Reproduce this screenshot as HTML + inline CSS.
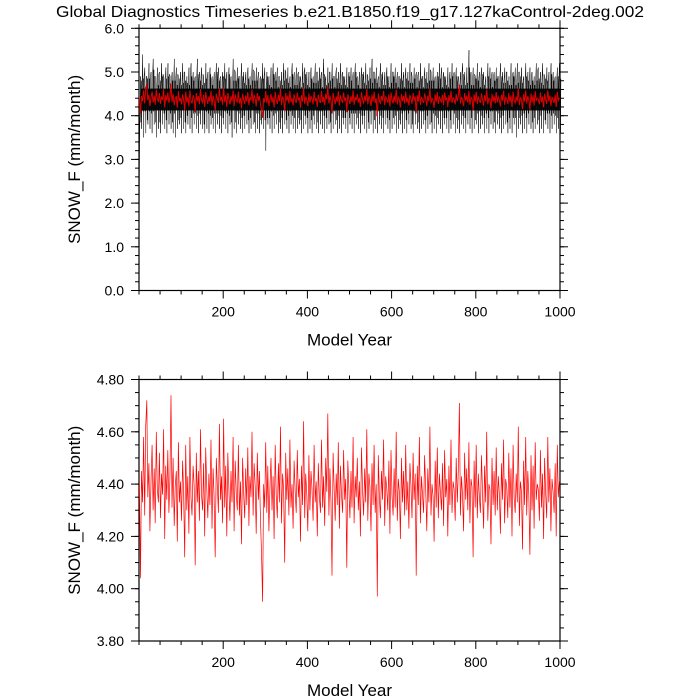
<!DOCTYPE html>
<html><head><meta charset="utf-8"><style>
html,body{margin:0;padding:0;background:#fff;}
svg{display:block;font-family:"Liberation Sans",Arial,sans-serif;}
</style></head><body>
<svg id="chart" width="700" height="700" viewBox="0 0 700 700">
<text x="350" y="17" text-anchor="middle" font-size="16" textLength="588" lengthAdjust="spacingAndGlyphs">Global Diagnostics Timeseries b.e21.B1850.f19_g17.127kaControl-2deg.002</text>
<g id="top"></g>
<g id="bot"></g>
</svg>
<script>
// Annual mean SNOW_F (red), sampled every 2.5 model years
const redYears0 = 1, redStep = 2.5;
const redValues = [
4.40,4.04,4.45,4.33,4.58,4.28,4.62,4.72,4.35,4.48,4.22,4.41,4.55,4.30,4.46,4.25,4.60,4.38,4.33,4.52,
4.27,4.44,4.36,4.61,4.19,4.47,4.34,4.53,4.29,4.42,4.74,4.31,4.50,4.24,4.39,4.45,4.18,4.56,4.33,4.41,
4.26,4.49,4.37,4.12,4.55,4.30,4.43,4.21,4.58,4.35,4.28,4.47,4.39,4.09,4.52,4.33,4.45,4.26,4.61,4.36,
4.30,4.48,4.20,4.54,4.38,4.27,4.44,4.32,4.57,4.23,4.46,4.35,4.12,4.50,4.40,4.29,4.63,4.34,4.43,4.25,
4.65,4.31,4.47,4.20,4.52,4.38,4.26,4.45,4.33,4.58,4.22,4.49,4.36,4.30,4.55,4.28,4.41,4.17,4.50,4.37,
4.27,4.46,4.32,4.54,4.24,4.43,4.35,4.60,4.28,4.48,4.39,4.21,4.52,4.34,4.45,4.26,4.14,3.95,4.40,4.31,
4.56,4.29,4.47,4.22,4.38,4.50,4.30,4.43,4.19,4.55,4.36,4.27,4.48,4.33,4.62,4.25,4.44,4.38,4.10,4.52,
4.34,4.46,4.28,4.57,4.31,4.40,4.23,4.49,4.37,4.29,4.53,4.35,4.42,4.18,4.47,4.32,4.64,4.27,4.44,4.36,
4.22,4.51,4.30,4.45,4.38,4.26,4.55,4.33,4.41,4.20,4.48,4.35,4.29,4.57,4.31,4.43,4.24,4.50,4.37,4.67,
4.28,4.46,4.33,4.05,4.52,4.39,4.26,4.44,4.32,4.56,4.23,4.47,4.36,4.29,4.53,4.34,4.42,4.08,4.49,4.38,
4.27,4.45,4.31,4.58,4.25,4.43,4.35,4.50,4.30,4.41,4.20,4.54,4.37,4.28,4.46,4.33,4.61,4.26,4.44,4.39,
4.22,4.48,4.32,4.55,4.29,4.40,3.97,4.51,4.35,4.27,4.45,4.34,4.57,4.24,4.43,4.38,4.30,4.49,4.21,4.53,
4.36,4.28,4.46,4.31,4.60,4.26,4.42,4.37,4.19,4.50,4.33,4.45,4.28,4.55,4.30,4.41,4.23,4.48,4.39,4.27,
4.52,4.34,4.44,4.05,4.47,4.32,4.58,4.25,4.43,4.36,4.29,4.51,4.38,4.22,4.46,4.33,4.62,4.28,4.40,4.35,
4.18,4.49,4.31,4.54,4.27,4.44,4.37,4.30,4.48,4.24,4.53,4.35,4.42,4.20,4.47,4.32,4.57,4.29,4.41,4.38,
4.26,4.50,4.33,4.45,4.71,4.28,4.43,4.36,4.22,4.52,4.34,4.46,4.30,4.56,4.25,4.42,4.39,4.12,4.49,4.31,
4.55,4.27,4.44,4.35,4.29,4.51,4.37,4.23,4.47,4.33,4.60,4.26,4.40,4.38,4.17,4.50,4.32,4.45,4.28,4.54,
4.30,4.43,4.36,4.21,4.48,4.34,4.57,4.25,4.42,4.39,4.27,4.52,4.31,4.46,4.20,4.55,4.35,4.29,4.44,4.33,
4.62,4.24,4.41,4.37,4.15,4.49,4.32,4.58,4.28,4.45,4.36,4.13,4.51,4.30,4.47,4.23,4.56,4.34,4.40,4.38,
4.26,4.53,4.31,4.44,4.19,4.50,4.36,4.27,4.58,4.33,4.46,4.22,4.42,4.37,4.29,4.48,4.20,4.55,4.35,4.41
];
// Monthly envelope (black) per 5-year bin: high and low extremes
const blackStep = 5;
const blackHigh = [
4.9,5.4,5.1,4.9,5.2,5.0,5.3,4.9,5.1,5.0,5.2,4.9,5.1,5.2,4.9,5.0,5.3,5.1,4.9,5.0,
5.2,5.0,4.9,5.1,5.2,5.0,4.9,5.3,5.0,5.1,4.9,5.2,5.0,5.1,4.9,5.0,5.2,5.1,4.9,5.0,
5.2,5.0,5.1,4.9,5.3,5.0,5.1,4.9,5.2,5.0,5.0,5.1,4.9,5.2,5.0,5.1,5.0,4.9,5.2,5.1,
5.0,4.9,5.1,5.2,5.0,5.1,4.9,5.0,5.2,5.0,5.1,4.9,5.2,5.0,5.1,5.0,4.9,5.2,5.1,5.0,
5.0,5.1,4.9,5.2,5.0,5.1,5.0,5.3,4.9,5.1,5.0,5.2,4.9,5.1,5.0,5.2,5.0,4.9,5.1,5.0,
5.1,5.0,5.2,4.9,5.0,5.1,5.0,5.2,4.9,5.1,5.3,5.0,5.1,4.9,5.2,5.0,5.0,5.1,4.9,5.2,
5.0,5.1,5.0,4.9,5.2,5.0,5.1,5.0,5.2,4.9,5.1,5.0,5.0,5.2,4.9,5.1,5.0,5.2,5.0,5.1,
4.9,5.0,5.2,5.1,5.0,4.9,5.1,5.0,5.2,5.0,5.1,4.9,5.0,5.2,5.0,5.1,5.5,5.0,5.1,4.9,
5.2,5.0,5.1,5.0,4.9,5.2,5.1,5.0,5.0,5.1,4.9,5.2,5.0,5.1,5.0,4.9,5.2,5.0,5.1,5.2,
5.0,5.1,4.9,5.2,5.0,5.1,5.0,4.9,5.2,5.1,5.0,5.2,4.9,5.1,5.0,5.2,5.0,4.9,5.1,5.2
];
const blackLow = [
3.7,3.5,3.6,3.8,3.7,3.6,3.8,3.5,3.7,3.6,3.8,3.7,3.6,3.8,3.7,3.6,3.5,3.7,3.8,3.6,
3.7,3.6,3.8,3.7,3.6,3.8,3.7,3.6,3.8,3.7,3.6,3.7,3.6,3.8,3.7,3.6,3.8,3.7,3.6,3.8,
3.7,3.6,3.8,3.5,3.7,3.6,3.8,3.7,3.6,3.7,3.8,3.6,3.7,3.8,3.6,3.7,3.6,3.8,3.7,3.2,
3.8,3.7,3.6,3.7,3.8,3.6,3.7,3.6,3.8,3.7,3.6,3.8,3.7,3.6,3.7,3.8,3.6,3.7,3.8,3.6,
3.7,3.6,3.8,3.7,3.6,3.8,3.7,3.6,3.7,3.8,3.6,3.7,3.8,3.6,3.7,3.6,3.8,3.7,3.6,3.8,
3.7,3.6,3.8,3.7,3.6,3.8,3.7,3.6,3.7,3.8,3.6,3.7,3.6,3.8,3.7,3.6,3.8,3.7,3.6,3.7,
3.8,3.6,3.7,3.8,3.6,3.7,3.6,3.8,3.7,3.6,3.8,3.7,3.6,3.7,3.8,3.6,3.7,3.8,3.6,3.7,
3.6,3.8,3.7,3.6,3.8,3.7,3.6,3.7,3.8,3.6,3.7,3.6,3.8,3.7,3.6,3.8,3.7,3.6,3.7,3.8,
3.6,3.7,3.8,3.6,3.7,3.6,3.8,3.7,3.6,3.8,3.7,3.6,3.7,3.8,3.6,3.7,3.6,3.8,3.5,3.7,
3.8,3.6,3.7,3.6,3.8,3.7,3.6,3.7,3.8,3.6,3.7,3.6,3.8,3.7,3.6,3.7,3.8,3.6,3.7,3.6
];
const spinupYears = [0, 1, 2, 3];
const spinupValues = [0.0, 2.8, 3.9, 4.4];
const xTicks = [200, 400, 600, 800, 1000];
const topYTicks = [0, 1, 2, 3, 4, 5, 6];
const topYLabels = ["0.0","1.0","2.0","3.0","4.0","5.0","6.0"];
const botYTicks = [3.8, 4.0, 4.2, 4.4, 4.6, 4.8];
const botYLabels = ["3.80","4.00","4.20","4.40","4.60","4.80"];

const NS = "http://www.w3.org/2000/svg";
const X0 = 139, X1 = 560;
const xScale = v => X0 + (v / 1000) * (X1 - X0);
function mk(parent, tag, attrs) {
  const e = document.createElementNS(NS, tag);
  for (const k in attrs) e.setAttribute(k, attrs[k]);
  parent.appendChild(e);
  return e;
}
function panel(g, yTop, yBot, ymin, ymax, ticks, labels, minorStep, name) {
  const yScale = v => yBot - (v - ymin) / (ymax - ymin) * (yBot - yTop);
  const fr = mk(g, "rect", {x: X0, y: yTop, width: X1 - X0, height: yBot - yTop, fill: "none", stroke: "#000", "stroke-width": 1.2});
  
  
  for (let v = 0; v <= 1000; v += 50) {
    const x = xScale(v), major = v % 200 === 0 && v > 0;
    const len = major ? 8 : 4;
    mk(g, "line", {x1: x, x2: x, y1: yBot, y2: yBot + len, stroke: "#000", "stroke-width": 1});
    mk(g, "line", {x1: x, x2: x, y1: yTop, y2: yTop - len, stroke: "#000", "stroke-width": 1});
  }
  xTicks.forEach(v => {
    const t = mk(g, "text", {x: xScale(v), y: yBot + 26, "text-anchor": "middle", "font-size": 14});
    t.textContent = String(v);
    
    
  });
  for (let v = ymin; v <= ymax + 1e-9; v += minorStep) {
    const y = yScale(v);
    mk(g, "line", {x1: X0, x2: X0 - 4, y1: y, y2: y, stroke: "#000", "stroke-width": 1});
    mk(g, "line", {x1: X1, x2: X1 + 4, y1: y, y2: y, stroke: "#000", "stroke-width": 1});
  }
  ticks.forEach((v, i) => {
    const y = yScale(v);
    mk(g, "line", {x1: X0, x2: X0 - 8, y1: y, y2: y, stroke: "#000", "stroke-width": 1});
    mk(g, "line", {x1: X1, x2: X1 + 8, y1: y, y2: y, stroke: "#000", "stroke-width": 1});
    const t = mk(g, "text", {x: X0 - 15, y: y + 5, "text-anchor": "end", "font-size": 14});
    t.textContent = labels[i];
    
    
  });
  const xl = mk(g, "text", {x: (X0 + X1) / 2, y: yBot + 55, "text-anchor": "middle", "font-size": 17});
  xl.textContent = "Model Year";
  
  
  const cy = (yTop + yBot) / 2;
  const yl = mk(g, "text", {x: 80, y: cy, "text-anchor": "middle", "font-size": 17, transform: `rotate(-90 80 ${cy})`});
  yl.textContent = "SNOW_F (mm/month)";
  
  
  return yScale;
}

// TOP PANEL
const gTop = document.getElementById("top");
const yT = panel(gTop, 28.3, 290.5, 0, 6, topYTicks, topYLabels, 0.2, "top");
const core = mk(gTop, "rect", {x: xScale(4), y: yT(4.62), width: xScale(1000) - xScale(4), height: yT(4.12) - yT(4.62), fill: "#111"});


let d = "";
spinupYears.forEach((yr, i) => { d += (i ? "L" : "M") + xScale(yr).toFixed(1) + "," + yT(spinupValues[i]).toFixed(1); });
blackHigh.forEach((hi, i) => {
  const yr = 3 + i * blackStep;
  const mid = (hi + blackLow[i]) / 2;
  const a = (i % 3) * 0.1;
  d += "L" + xScale(yr + 0.8).toFixed(1) + "," + yT(hi).toFixed(1);
  d += "L" + xScale(yr + 1.6).toFixed(1) + "," + yT(mid - 0.45 + a).toFixed(1);
  d += "L" + xScale(yr + 2.4).toFixed(1) + "," + yT(mid + 0.5 - a).toFixed(1);
  d += "L" + xScale(yr + 3.2).toFixed(1) + "," + yT(blackLow[i]).toFixed(1);
  d += "L" + xScale(yr + 4.1).toFixed(1) + "," + yT(mid + 0.35 + a).toFixed(1);
});
const blk = mk(gTop, "path", {d: d, fill: "none", stroke: "#000", "stroke-width": 0.5});


let dr = "";
redValues.forEach((v, i) => { dr += (i ? "L" : "M") + xScale(redYears0 + i * redStep).toFixed(1) + "," + yT(v).toFixed(1); });
const redT = mk(gTop, "path", {d: dr, fill: "none", stroke: "#e00000", "stroke-width": 1});



// BOTTOM PANEL
const gBot = document.getElementById("bot");
const yB = panel(gBot, 379.5, 641, 3.8, 4.8, botYTicks, botYLabels, 0.05, "bottom");
let db = "";
redValues.forEach((v, i) => { db += (i ? "L" : "M") + xScale(redYears0 + i * redStep).toFixed(1) + "," + yB(v).toFixed(1); });
const redB = mk(gBot, "path", {d: db, fill: "none", stroke: "#ff0000", "stroke-width": 0.7});


</script>
</body></html>
